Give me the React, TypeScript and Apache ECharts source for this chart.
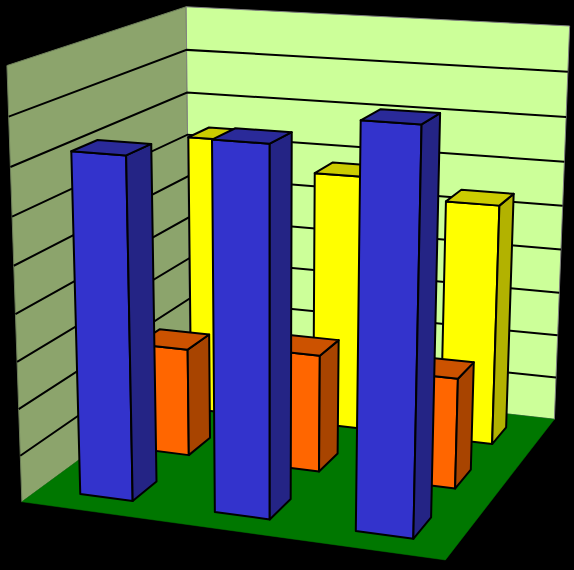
import React, { useEffect, useRef } from "react";
import * as echarts from "echarts";

const categories = ["A", "B", "C"];
const yTicks = [0, 1, 2, 3, 4, 5, 6, 7, 8, 9];
const backRow = [6.4, 5.8, 5.4];
const middleRow = [2.4, 2.58, 2.4];
const frontRow = [7.22, 7.66, 8.23];

const W = 574;
const H = 570;
const BAR_FRACTION = 0.395;
const DEPTH_FRACTION = 0.41;
const X_SHIFT = 0.002;
const Z_SHIFT = -0.006;

// Calibration of the 3D view: [x, depth, height] -> [px, py]
const calibration: [number, number, number, number, number][] = [
  [0, 1, 0, 190, 378],
  [1, 1, 0, 555, 419],
  [0, 0, 0, 22, 502],
  [1, 0, 0, 445, 560],
  [0, 1, 1, 186, 7],
  [1, 1, 1, 570, 26],
  [0, 0, 1, 7, 65],
  [1, 1, 0.5556, 562, 206],
  [0, 0, 0.5556, 14, 266],
];

function solveCamera(): number[] {
  const rows: number[][] = [];
  const rhs: number[] = [];
  for (const [x, z, y, u, v] of calibration) {
    rows.push([x, z, y, 1, 0, 0, 0, 0, -u * x, -u * z, -u * y]);
    rhs.push(u);
    rows.push([0, 0, 0, 0, x, z, y, 1, -v * x, -v * z, -v * y]);
    rhs.push(v);
  }
  const n = 11;
  const m: number[][] = [];
  for (let i = 0; i < n; i++) {
    const line = new Array(n + 1).fill(0);
    for (let j = 0; j < n; j++) rows.forEach((r) => (line[j] += r[i] * r[j]));
    rows.forEach((r, k) => (line[n] += r[i] * rhs[k]));
    m.push(line);
  }
  for (let i = 0; i < n; i++) {
    let p = i;
    for (let k = i + 1; k < n; k++) if (Math.abs(m[k][i]) > Math.abs(m[p][i])) p = k;
    [m[i], m[p]] = [m[p], m[i]];
    for (let k = 0; k < n; k++) {
      if (k === i) continue;
      const f = m[k][i] / m[i][i];
      for (let j = i; j <= n; j++) m[k][j] -= f * m[i][j];
    }
  }
  return m.map((l, i) => l[n] / l[i]);
}

const cam = solveCamera();
function project(x: number, z: number, y: number): [number, number] {
  const d = cam[8] * x + cam[9] * z + cam[10] * y + 1;
  return [
    (cam[0] * x + cam[1] * z + cam[2] * y + cam[3]) / d,
    (cam[4] * x + cam[5] * z + cam[6] * y + cam[7]) / d,
  ];
}

const poly = (points: number[][], fill: string, stroke = "#000000", lineWidth = 2) => ({
  type: "polygon",
  shape: { points },
  style: { fill, stroke, lineWidth, lineJoin: "round" },
});

function barSeries(name: string, values: number[], row: number, front: string, top: string, side: string) {
  return {
    type: "custom",
    name,
    xAxisIndex: 0,
    yAxisIndex: 0,
    silent: true,
    clip: false,
    data: values.map((v, i) => [i, v]),
    encode: { x: 0, y: 1 },
    renderItem: (_: any, api: any) => {
      const c = api.coord([api.value(0), api.value(1)]);
      const cx = c[0] / api.getWidth() + X_SHIFT;
      const h = 1 - c[1] / api.getHeight();
      const halfX = BAR_FRACTION / 3 / 2;
      const halfZ = DEPTH_FRACTION / 3 / 2;
      const x0 = cx - halfX;
      const x1 = cx + halfX;
      const zc = (row + 0.5) / 3 + Z_SHIFT;
      const z0 = zc - halfZ;
      const z1 = zc + halfZ;
      return {
        type: "group",
        children: [
          poly([project(x0, z0, 0), project(x1, z0, 0), project(x1, z0, h), project(x0, z0, h)], front),
          poly([project(x1, z0, 0), project(x1, z1, 0), project(x1, z1, h), project(x1, z0, h)], side),
          poly([project(x0, z0, h), project(x1, z0, h), project(x1, z1, h), project(x0, z1, h)], top),
        ],
      };
    },
  };
}

export default function App() {
  const ref = useRef<HTMLDivElement>(null);
  useEffect(() => {
    const chart = echarts.init(ref.current!, undefined, { renderer: "svg" });
    chart.setOption({
      animation: false,
      backgroundColor: "#000000",
      grid: { left: 0, right: 0, top: 0, bottom: 0 },
      xAxis: { type: "category", data: categories, show: false },
      yAxis: { type: "value", min: 0, max: 9, interval: 1, show: false },
      series: [
        {
          type: "custom",
          name: "walls",
          silent: true,
          clip: false,
          data: [[0, 0]],
          renderItem: () => ({
            type: "group",
            children: [
              poly([project(0, 0, 0), project(0, 1, 0), project(0, 1, 1), project(0, 0, 1)], "#8CA46C", "#6E7F5A", 1),
              poly([project(0, 1, 0), project(1, 1, 0), project(1, 1, 1), project(0, 1, 1)], "#CCFF99", "#808080", 1),
            ],
          }),
        },
        {
          type: "custom",
          name: "gridlines",
          silent: true,
          clip: false,
          data: yTicks.slice(1, -1).map((t) => [0, t]),
          encode: { x: 0, y: 1 },
          renderItem: (_: any, api: any) => {
            const h = 1 - api.coord([0, api.value(1)])[1] / api.getHeight();
            return {
              type: "polyline",
              shape: { points: [project(0, 0, h), project(0, 1, h), project(1, 1, h)] },
              style: { fill: "none", stroke: "#000000", lineWidth: 2 },
            };
          },
        },
        {
          type: "custom",
          name: "floor",
          silent: true,
          clip: false,
          data: [[0, 0]],
          renderItem: () =>
            poly([project(0, 0, 0), project(1, 0, 0), project(1, 1, 0), project(0, 1, 0)], "#007700", "#007700", 0.5),
        },
        barSeries("Back", backRow, 2, "#FFFF00", "#CCCC00", "#B2B200"),
        barSeries("Middle", middleRow, 1, "#FF6600", "#CC5200", "#A84400"),
        barSeries("Front", frontRow, 0, "#3333CC", "#2A2A99", "#242485"),
      ],
    });
    return () => chart.dispose();
  }, []);
  return <div ref={ref} style={{ position: "fixed", left: 0, top: 0, width: W, height: H }} />;
}
